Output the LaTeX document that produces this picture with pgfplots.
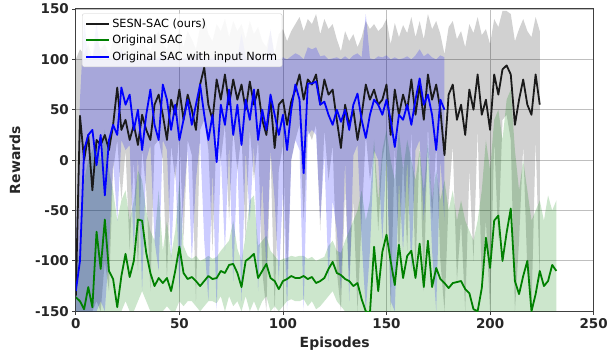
\documentclass[border=0pt]{standalone}
\usepackage{fontspec}
\setmainfont{DejaVu Sans}
\usepackage{pgfplots}
\usepackage{pgfplotstable}
\pgfplotsset{compat=1.18}
\usepgfplotslibrary{fillbetween}
\definecolor{mplgreen}{RGB}{0,128,0}
\definecolor{mpldark}{RGB}{26,26,26}
\definecolor{mplblue}{RGB}{0,0,255}

\pgfplotstableread{
x y lo hi
0 -135 -150 100
2 44 -150 110
4 0 -150 105
6 25 -150 115
8 -30 -150 100
10 20 -140 120
12 15 -150 110
14 25 -100 115
16 10 -130 105
18 35 -10 118
20 72 20 125
22 30 -40 112
24 40 10 120
26 20 -90 108
28 35 0 115
30 15 -110 110
32 45 10 118
34 30 -30 112
36 20 -130 108
38 55 15 122
40 65 20 128
42 45 0 115
44 20 -120 110
46 60 15 125
48 45 -20 118
50 70 25 130
52 40 -80 112
54 65 20 128
56 50 5 120
58 30 -140 110
60 75 30 132
62 92 40 142
64 55 10 125
66 40 -90 118
68 80 30 135
70 60 0 128
72 85 35 140
74 55 -60 122
76 80 30 138
78 60 -10 128
80 75 25 135
82 50 -80 120
84 78 30 138
86 55 -20 125
88 70 20 132
90 40 -110 118
92 25 -150 112
94 60 10 128
96 12 -150 105
98 55 -10 125
100 60 15 130
102 35 -120 118
104 58 0 128
106 70 20 135
108 85 35 142
110 60 -60 128
112 80 30 140
114 75 20 135
116 85 35 145
118 55 -70 125
120 80 30 140
122 65 -20 130
124 70 15 135
126 40 -110 120
128 12 -150 108
130 55 -30 128
132 35 -120 118
134 50 -40 125
136 20 -150 112
138 45 -60 122
140 75 25 138
142 60 -20 130
144 70 10 135
146 55 -70 128
148 60 0 132
150 75 25 140
152 25 -150 115
154 70 15 136
156 45 -100 122
158 65 0 134
160 50 -90 126
162 80 30 142
164 45 -110 122
166 75 15 138
168 40 -130 120
170 85 35 145
172 60 -60 130
174 75 15 138
176 50 -100 125
178 5 -150 105
180 65 -40 132
182 75 15 138
184 40 -120 120
186 55 -60 128
188 25 -150 112
190 70 -10 135
192 50 -100 126
194 85 30 142
196 45 -120 124
198 60 -60 130
200 30 -150 115
202 85 20 140
204 65 -80 132
206 90 40 148
208 94 45 148
210 85 20 145
212 35 -150 118
214 60 -80 130
216 80 15 140
218 55 -110 128
220 45 -150 122
222 85 20 142
224 55 -120 128
}\blackdata

\pgfplotstableread{
x y lo hi
0 -130 -150 -80
2 -100 -150 60
4 10 -150 140
6 25 -150 102
8 30 -150 100
10 -5 -150 138
12 25 -140 101
14 -35 -150 99
16 20 -90 102
18 35 0 100
20 25 -60 103
22 72 20 110
24 55 10 101
26 65 15 100
28 30 -90 102
30 50 5 100
32 10 -130 99
34 45 0 101
36 70 15 104
38 35 -80 100
40 20 -110 102
42 75 20 105
44 60 10 101
46 30 -100 100
48 55 0 103
50 20 -130 100
52 40 -40 101
54 60 10 102
56 35 -100 100
58 55 -20 103
60 75 20 106
62 45 -80 101
64 20 -140 100
66 45 -10 102
68 -2 -150 99
70 55 5 103
72 35 -90 101
74 70 15 104
76 25 -120 100
78 55 0 102
80 15 -140 125
82 60 10 103
84 40 -60 101
86 70 15 105
88 20 -130 100
90 50 -20 102
92 30 -110 100
94 65 10 130
96 45 -40 101
98 25 -120 100
100 45 -30 102
102 10 -150 100
104 50 0 103
106 75 20 106
108 60 10 104
110 -13 -150 100
112 76 25 112
114 76 30 110
116 78 25 112
118 55 -60 103
120 58 5 104
122 45 -120 100
124 35 -40 101
126 50 -70 102
128 38 -130 100
130 50 0 103
132 30 -140 100
134 55 5 104
136 66 15 106
138 40 -80 102
140 22 -150 145
142 45 -90 101
144 60 10 100
146 55 0 103
148 45 -80 102
150 60 5 104
152 40 -140 100
154 13 -150 102
156 45 -20 100
158 40 -90 101
160 55 0 103
162 35 -110 100
164 60 10 104
166 81 20 110
168 55 -60 103
170 65 10 106
172 45 -90 102
174 10 -150 100
176 60 0 104
178 50 -60 102
}\bluedata

\pgfplotstableread{
x y lo hi
0 -136 -150 -120
2 -140 -150 -80
4 -148 -150 -20
6 -126 -150 0
8 -146 -150 10
10 -71 -150 20
12 -108 -150 0
14 -59 -150 30
16 -110 -150 -10
18 -118 -150 -30
20 -146 -150 -60
22 -115 -150 -40
24 -93 -140 -30
26 -116 -150 -60
28 -100 -150 -40
30 -59 -140 -10
32 -60 -130 -20
34 -92 -140 -50
36 -112 -150 -70
38 -125 -150 -80
40 -117 -150 -30
42 -122 -150 -90
44 -117 -145 -60
46 -130 -150 -95
48 -110 -150 -70
50 -86 -140 -20
52 -112 -145 -85
54 -118 -140 -95
56 -116 -140 -98
58 -120 -145 -95
60 -125 -150 -100
62 -120 -145 -98
64 -115 -140 -95
66 -118 -140 -98
68 -117 -142 -96
70 -110 -135 -90
72 -112 -150 -85
74 -104 -135 -80
76 -103 -145 -60
78 -112 -140 -88
80 -126 -150 -100
82 -100 -135 -75
84 -97 -150 -40
86 -93 -140 -35
88 -117 -150 -85
90 -110 -140 -80
92 -103 -135 -75
94 -117 -150 -90
96 -120 -145 -95
98 -128 -150 -100
100 -120 -145 -98
102 -118 -140 -97
104 -115 -138 -95
106 -117 -140 -96
108 -117 -140 -95
110 -115 -138 -95
112 -118 -145 -98
114 -116 -140 -96
116 -122 -148 -100
118 -120 -145 -98
120 -117 -140 -96
122 -108 -135 -85
124 -101 -130 -80
126 -112 -140 -90
128 -114 -145 -92
130 -118 -150 -80
132 -120 -150 -70
134 -125 -150 -60
136 -122 -150 -50
138 -138 -150 -30
140 -150 -150 -60
142 -152 -150 -40
144 -86 -150 20
146 -130 -150 -40
148 -91 -150 10
150 -74 -150 30
152 -100 -150 0
154 -124 -150 -20
156 -84 -150 30
158 -117 -150 -10
160 -95 -150 20
162 -90 -150 0
164 -117 -150 -20
166 -83 -150 10
168 -126 -150 -30
170 -80 -150 20
172 -126 -150 -40
174 -107 -150 -10
176 -118 -150 -40
178 -122 -150 -20
180 -127 -150 -50
182 -122 -150 -30
184 -121 -150 -60
186 -120 -150 -40
188 -128 -150 -60
190 -132 -150 -70
192 -148 -150 -80
194 -150 -150 -60
196 -127 -150 -30
198 -77 -150 20
200 -107 -150 -10
202 -60 -150 40
204 -55 -150 50
206 -100 -150 20
208 -72 -150 60
210 -48 -150 70
212 -120 -150 10
214 -133 -150 -30
216 -115 -150 0
218 -100 -150 -30
220 -150 -150 -60
222 -133 -150 -50
224 -110 -150 -40
226 -125 -150 -60
228 -120 -150 -35
230 -104 -150 -50
232 -110 -150 -40
}\greendata

\begin{document}
\begin{tikzpicture}
\begin{axis}[
  name=ax,
  scale only axis,
  width=519pt, height=303pt,
  xmin=0, xmax=250, ymin=-150, ymax=150,
  xtick={0,50,100,150,200,250},
  ytick={-150,-100,-50,0,50,100,150},
  grid=major,
  major grid style={draw=black!25, line width=0.8pt},
  axis line style={draw=black!75, line width=1pt},
  tick align=outside,
  major tick length=3.5pt,
  tick style={draw=black!75, line width=0.8pt},
  xtick pos=bottom, ytick pos=left,
  /pgf/number format/assume math mode=true,
  ticklabel style={font=\fontsize{13.5}{15}\selectfont\bfseries, text=black!85},
  xlabel={Episodes}, ylabel={Rewards},
  label style={font=\fontsize{14}{16}\selectfont\bfseries, text=black!85},
  xlabel style={yshift=-2pt},
  ylabel style={yshift=8pt},
  legend cell align=left,
  legend image code/.code={\draw[#1, line width=1.8pt] (0cm,0cm) -- (0.82cm,0cm);},
  legend style={at={(0.012,0.985)}, anchor=north west,
    font=\fontsize{11.3}{13}\selectfont, draw=black!20, rounded corners=2pt,
    fill=white, fill opacity=0.85, text opacity=1, row sep=2.5pt,
    inner xsep=3pt, inner ysep=3pt},
]
% bands
\addplot[draw=none, name path=blo, forget plot] table[x=x,y=lo]{\blackdata};
\addplot[draw=none, name path=bhi, forget plot] table[x=x,y=hi]{\blackdata};
\addplot[fill=black, fill opacity=0.18, draw=none, forget plot] fill between[of=bhi and blo];
\addplot[draw=none, name path=glo, forget plot] table[x=x,y=lo]{\greendata};
\addplot[draw=none, name path=ghi, forget plot] table[x=x,y=hi]{\greendata};
\addplot[fill=mplgreen, fill opacity=0.2, draw=none, forget plot] fill between[of=ghi and glo];
\addplot[draw=none, name path=ulo, forget plot] table[x=x,y=lo]{\bluedata};
\addplot[draw=none, name path=uhi, forget plot] table[x=x,y=hi]{\bluedata};
\addplot[fill=blue, fill opacity=0.2, draw=none, forget plot] fill between[of=uhi and ulo];
% mean lines
\addplot[color=mpldark, line width=1.8pt, line join=round, mark=none, opacity=1] table[x=x,y=y]{\blackdata};
\addlegendentry{SESN-SAC (ours)}
\addplot[color=mplgreen, line width=1.8pt, line join=round, mark=none, opacity=1] table[x=x,y=y]{\greendata};
\addlegendentry{Original SAC}
\addplot[color=mplblue, line width=1.8pt, line join=round, mark=none, opacity=1] table[x=x,y=y]{\bluedata};
\addlegendentry{Original SAC with input Norm}
\end{axis}
\path ([xshift=-76pt,yshift=-45pt]ax.south west) rectangle ([xshift=16pt,yshift=9pt]ax.north east);
\end{tikzpicture}
\end{document}
